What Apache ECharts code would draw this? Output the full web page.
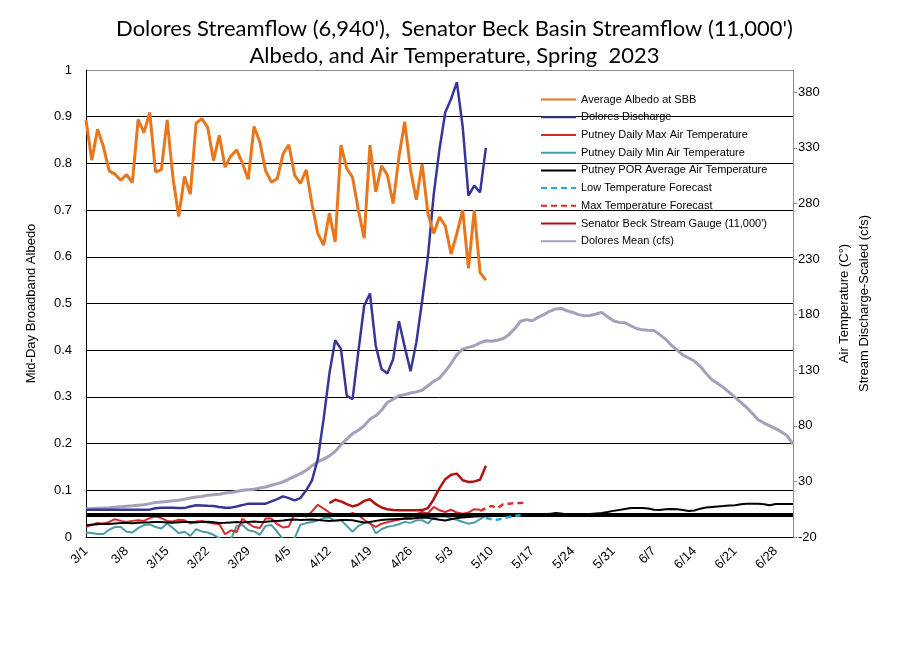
<!DOCTYPE html>
<html>
<head>
<meta charset="utf-8">
<script src="https://cdn.jsdelivr.net/npm/echarts@6/dist/echarts.min.js"></script>
<style>html,body{margin:0;padding:0;background:#fff}#c{width:909px;height:660px}</style>
</head>
<body>
<div id="c"></div>
<script>
// ---- categories: daily dates 3/1 .. 7/1 (calendar) ----
const monthLengths = [[3,31],[4,30],[5,31],[6,30],[7,1]];
const categories = [];
monthLengths.forEach(([m,n]) => { for (let d = 1; d <= n; d++) categories.push(m + '/' + d); });

// ---- series values ----
const albedoStart = '3/1';
const albedo = [0.893,0.807,0.873,0.836,0.784,0.777,0.764,0.776,0.759,0.894,
  0.866,0.909,0.782,0.786,0.893,0.770,0.686,0.772,0.734,0.886,
  0.896,0.877,0.806,0.860,0.792,0.816,0.829,0.800,0.766,0.879,
  0.846,0.784,0.760,0.767,0.820,0.840,0.775,0.757,0.786,0.712,
  0.650,0.625,0.693,0.632,0.839,0.789,0.770,0.700,0.640,0.839,
  0.739,0.795,0.775,0.714,0.814,0.889,0.786,0.722,0.799,0.693,
  0.650,0.685,0.666,0.606,0.650,0.700,0.575,0.700,0.566,0.550];

const doloresStart = '3/1';
const doloresDischarge = [4.6,4.5,4.5,4.5,4.5,4.5,4.5,4.5,4.5,4.5,
  4.5,4.6,5.8,6.4,6.4,6.3,6,6,7.5,8.5,
  8.3,8,7.9,7,6.4,6.4,7.5,8.7,10,10,
  10,10,12,14,16.5,15,13,15,22,31,
  50,86,127,157,149,107,104,147,188,199,
  152,131,127,140,174,151,129,155,192,232,
  288,329,362,374,389,349,287,296,290,330];

const maxTempStart = '3/1';
const maxTemp = [-11,-9,-7.3,-8,-6.5,-4,-5.5,-6.5,-5.5,-5,
  -5.5,-3,-1.5,-3,-5.5,-6,-4.5,-5,-7.8,-6,
  -5.5,-7,-7.8,-8.4,-17.5,-14,-15.5,-3.5,-7.8,-11,
  -12,-3.4,-3.4,-8.5,-11.4,-10.5,1,0,-1.5,3,
  9,5.5,2,-0.4,-1,-1,1.6,-0.4,-4.5,-8,
  -10.8,-8,-6.8,-5.5,-4.5,-3,-2,0.5,2.5,1.2,
  7,4,2.5,4.5,2,1,2,5,4.5];

const minTempStart = '3/1';
const minTemp = [-16,-16.5,-17.3,-17.3,-13.5,-11,-11,-15.3,-16,-12,
  -9.3,-8.7,-11,-12.3,-7.8,-12,-16.7,-15.3,-19,-13,
  -15,-16,-18,-21,-23,-22,-10,-9.3,-14,-15,
  -18,-10,-9.3,-15.3,-22,-23,-21,-9,-7.5,-6.5,
  -5,-3,-2.5,-5.5,-5,-10,-15.3,-10,-7.5,-6.4,
  -16.7,-13,-10.8,-10,-8.5,-6.4,-7.3,-5,-4.9,-7.8,
  -2.5,-1.3,-1.5,-3.4,-4.5,-6.5,-8,-7,-4,-1];

const porAvgStart = '3/1';
const porAvgTemp = [-9.5,-9,-8.5,-8,-8.2,-7.8,-7.5,-7.4,-7.6,-7.2,-7,
  -6.8,-6.4,-6.6,-6.9,-7.2,-6.8,-6.5,-6.6,-7,-6.4,
  -6.2,-6.8,-7.4,-7.2,-6.9,-6.6,-6.9,-6.4,-6.1,-6.5,
  -6.3,-5.9,-5.5,-5.2,-4.5,-4.3,-4.6,-4.4,-4.3,-4.8,
  -5.2,-5.5,-5.2,-4.8,-4.6,-5,-6,-7,-6.5,-5.5,
  -4.8,-4.3,-4,-3.8,-3.6,-3.5,-3,-2.5,-2.8,-3.5,
  -4.5,-5.2,-4,-3,-2.5,-2,-1.6,-1.3,-0.8,-0.5,
  0,0.2,0,0.3,0,0.2,0.5,0.3,0.5,0.8,
  1.6,1.2,0.3,0,0,0.3,0.8,1.2,1.6,2.5,
  3.5,4.3,5.2,6,6.1,6,5.6,4.5,4.3,5,
  5.2,5,4.2,3.3,3.8,5.5,6.5,7,7.5,7.8,
  8.3,8.5,9.5,10,10,10,9.5,8.6,9.6,9.6,9.6,9.6];

const lowFcStart = '5/9';
const lowTempForecast = [-3,-4,-4.5,-3,-2,-1,-0.5];

const maxFcStart = '5/8';
const maxTempForecast = [3.5,6,8,6,9.5,10,10.5,10.5,11];

const senatorStart = '4/12';
const senatorBeck = [10.5,13.5,12,9.5,7.5,9,12.5,14,9.5,6.5,
  5,4.2,4,4,4,4,4.2,6,14,24,
  32,36,37,31,29.5,30,31.5,44];

const meanStart = '3/1';
const doloresMean = [5.5,5.6,5.8,6,6.3,6.8,7.2,7.6,8,8.5,
  9,10,11,11.5,12,12.5,13,14,15,16,
  16.5,17.5,18,18.5,19.5,20,21,22,22.5,23,
  24,25,26.5,28,29.5,32,34.5,37,40,44,
  47.5,50,53,57,63,68,73,76,80,86,
  89,94,101,104,107,108,109.5,110.5,112,116,
  120,123,129,136,144,149,150.5,152,154.5,156.5,
  156,157,158.5,162,167.5,174,175.5,174.5,177.5,180,
  183,185,185.5,183.5,182,180,179,179.2,180.5,182,
  178,174.5,173,172.7,170,167.5,166.3,166,165.8,162,
  158,152.5,148,143.5,141,138,133.5,127,121.5,118,
  114.5,110,105.5,101,96.5,91,85.5,82.5,80,77.5,
  74.5,71,63.5];

const freezingLine = 0;

// ---- axis settings (tick labels) ----
const leftAxis = {min: 0, max: 1, interval: 0.1};
const rightAxis = {min: -20, max: 400, interval: 50};

function place(start, vals) {
  const i = categories.indexOf(start);
  return new Array(i).fill(null).concat(vals);
}

const FONT = '"Liberation Sans", Arial, sans-serif';

function ser(name, start, vals, color, width, yIdx, extra) {
  return Object.assign({
    name: name, type: 'line', yAxisIndex: yIdx, data: place(start, vals),
    symbol: 'none', showSymbol: false, smooth: false, connectNulls: false,
    lineStyle: {color: color, width: width}, itemStyle: {color: color},
    emphasis: {disabled: true}, animation: false, clip: true
  }, extra || {});
}

const chart = echarts.init(document.getElementById('c'), null, {renderer: 'canvas'});
const splitColors = [];
for (let k = 0; k <= 10; k++) splitColors.push(k === 10 ? '#8c8c8c' : '#000');

chart.setOption({
  animation: false,
  backgroundColor: '#fff',
  title: {
    text: "Dolores Streamflow (6,940'),  Senator Beck Basin Streamflow (11,000')\nAlbedo, and Air Temperature, Spring  2023",
    left: 'center', top: 10,
    textStyle: {fontFamily: 'Lato, "Open Sans", sans-serif', fontSize: 22, fontWeight: 'normal', color: '#000', lineHeight: 27, align: 'center'}
  },
  grid: {left: 86, right: 116, top: 70, bottom: 123, containLabel: false},
  legend: {
    orient: 'vertical', left: 535, top: 89, itemWidth: 35, itemHeight: 14, itemGap: 6.5,
    textStyle: {fontFamily: FONT, fontSize: 11, color: '#000'},
    itemStyle: {color: 'rgba(0,0,0,0)', borderColor: 'rgba(0,0,0,0)', borderWidth: 0, opacity: 0},
    data: ['Average Albedo at SBB','Dolores Discharge','Putney Daily Max Air Temperature',
      'Putney Daily Min Air Temperature','Putney POR Average Air Temperature',
      'Low Temperature Forecast','Max Temperature Forecast',
      "Senator Beck Stream Gauge (11,000')",'Dolores Mean (cfs)']
  },
  xAxis: {
    type: 'category', data: categories, boundaryGap: false,
    axisLine: {lineStyle: {color: '#000', width: 1}},
    axisTick: {show: false},
    axisLabel: {interval: 6, rotate: 45, fontFamily: FONT, fontSize: 13, color: '#000', margin: 12},
    splitLine: {show: false}
  },
  yAxis: [
    {
      type: 'value', min: leftAxis.min, max: leftAxis.max, interval: leftAxis.interval, position: 'left',
      name: 'Mid-Day Broadband Albedo', nameLocation: 'middle', nameGap: 48,
      nameTextStyle: {fontFamily: FONT, fontSize: 13, color: '#000'},
      axisLine: {show: true, lineStyle: {color: '#000'}},
      axisTick: {show: false},
      axisLabel: {fontFamily: FONT, fontSize: 13, color: '#000', margin: 14},
      splitLine: {show: true, lineStyle: {color: splitColors, width: 1}}
    },
    {
      type: 'value', min: rightAxis.min, max: rightAxis.max, interval: rightAxis.interval, position: 'right',
      name: 'Air Temperature (C°)\nStream Discharge-Scaled (cfs)', nameLocation: 'middle', nameGap: 41,
      nameTextStyle: {fontFamily: FONT, fontSize: 13, color: '#000', lineHeight: 20},
      axisLine: {show: true, lineStyle: {color: '#8c8c8c'}},
      axisTick: {show: true, length: 4, lineStyle: {color: '#8c8c8c'}},
      axisLabel: {fontFamily: FONT, fontSize: 13, color: '#000', margin: 5, showMaxLabel: false},
      splitLine: {show: false}
    }
  ],
  series: [
    ser('Dolores Mean (cfs)', meanStart, doloresMean, '#a3a0ba', 3, 1, {z: 2}),
    ser('Putney Daily Min Air Temperature', minTempStart, minTemp, '#4a9ca7', 2, 1, {z: 3}),
    ser('Putney Daily Max Air Temperature', maxTempStart, maxTemp, '#d42b2b', 2, 1, {z: 3}),
    ser('Putney POR Average Air Temperature', porAvgStart, porAvgTemp, '#000000', 2, 1, {z: 4,
      markLine: {silent: true, symbol: 'none', label: {show: false}, animation: false,
        lineStyle: {color: '#000', width: 4, type: 'solid'}, data: [{yAxis: freezingLine}]}}),
    ser('Low Temperature Forecast', lowFcStart, lowTempForecast, '#24a8dc', 2.5, 1, {z: 5,
      lineStyle: {color: '#24a8dc', width: 2.5, type: [6, 4]}}),
    ser('Max Temperature Forecast', maxFcStart, maxTempForecast, '#e02a2a', 2.5, 1, {z: 5,
      lineStyle: {color: '#e02a2a', width: 2.5, type: [6, 4]}}),
    ser("Senator Beck Stream Gauge (11,000')", senatorStart, senatorBeck, '#b01212', 2.5, 1, {z: 5}),
    ser('Dolores Discharge', doloresStart, doloresDischarge, '#363699', 2.5, 1, {z: 6}),
    ser('Average Albedo at SBB', albedoStart, albedo, '#e8761c', 3, 0, {z: 7})
  ]
});
</script>
</body>
</html>
